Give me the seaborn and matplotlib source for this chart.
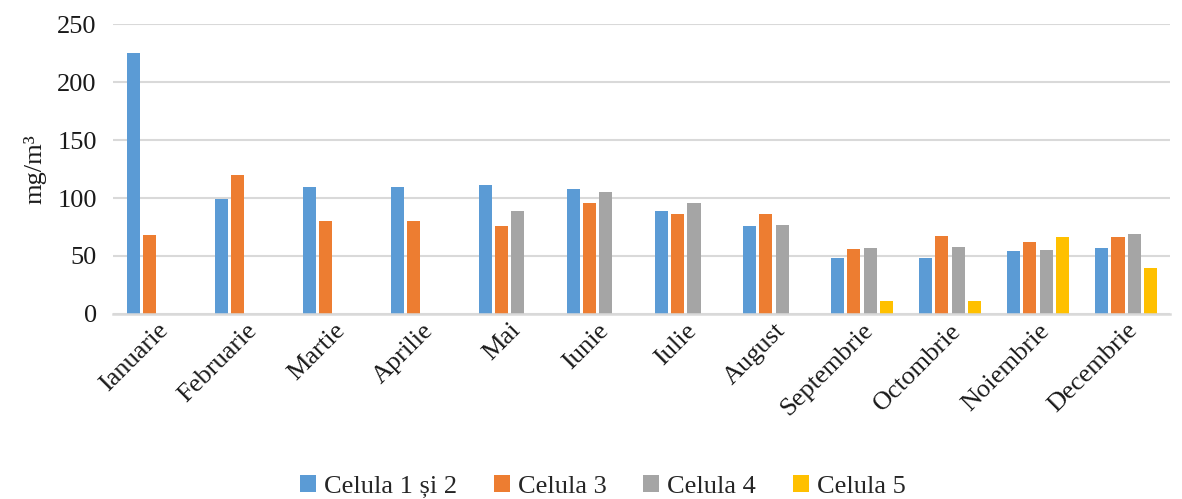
import numpy as np
import pandas as pd
import matplotlib
matplotlib.use("Agg")
import matplotlib.pyplot as plt
import seaborn as sns

sns.set_style("white")
plt.rcParams['font.family'] = ['Liberation Serif', 'DejaVu Serif']

# Data
luni = ["Ianuarie", "Februarie", "Martie", "Aprilie", "Mai", "Iunie",
        "Iulie", "August", "Septembrie", "Octombrie", "Noiembrie", "Decembrie"]
celula_1_2 = [225, 99, 110, 110, 111, 108, 89, 76, 48, 48, 54, 57]
celula_3 = [68, 120, 80, 80, 76, 96, 86, 86, 56, 67, 62, 66]
celula_4 = [np.nan, np.nan, np.nan, np.nan, 89, 105, 96, 77, 57, 58, 55, 69]
celula_5 = [np.nan] * 8 + [11, 11, 66, 40]

serii = ["Celula 1 și 2", "Celula 3", "Celula 4", "Celula 5"]
culori = ["#5B9BD5", "#ED7D31", "#A5A5A5", "#FFC000"]

df = pd.DataFrame({"Luna": luni, serii[0]: celula_1_2, serii[1]: celula_3,
                   serii[2]: celula_4, serii[3]: celula_5})
df_long = df.melt(id_vars="Luna", var_name="Serie", value_name="Valoare")

fig, ax = plt.subplots(figsize=(11.82, 4.99), dpi=100)
fig.subplots_adjust(left=0.096, right=0.99, top=0.951, bottom=0.371)

sns.barplot(data=df_long, x="Luna", y="Valoare", hue="Serie", hue_order=serii,
            palette=culori, width=0.74, gap=0.2, ax=ax, saturation=1,
            edgecolor="none", errorbar=None)

ax.set_ylim(0, 250)
ax.set_yticks([0, 50, 100, 150, 200, 250])
ax.yaxis.grid(True, color="#d9d9d9", linewidth=1.5)
ax.set_axisbelow(True)
for s in ["top", "right", "left"]:
    ax.spines[s].set_visible(False)
ax.spines["bottom"].set_color("#d9d9d9")
ax.spines["bottom"].set_linewidth(1.8)
ax.tick_params(axis="both", length=0, labelsize=19, colors="#1a1a1a")
ax.tick_params(axis="y", pad=12)
ax.tick_params(axis="x", pad=4)
ax.set_xlim(-0.5, len(luni) - 0.5)
plt.setp(ax.get_xticklabels(), rotation=45, ha="right", rotation_mode="anchor")
ax.set_xlabel("")
ax.set_ylabel("mg/m³", fontsize=19, color="#1a1a1a", labelpad=8)

handles, labels = ax.get_legend_handles_labels()
ax.get_legend().remove()
fig.legend(handles, labels, loc="lower center", bbox_to_anchor=(0.51, -0.045),
           ncol=4, frameon=False, fontsize=19, handlelength=0.6, handleheight=0.6,
           handletextpad=0.3, columnspacing=1.4)

plt.savefig("out.png", dpi=100)
